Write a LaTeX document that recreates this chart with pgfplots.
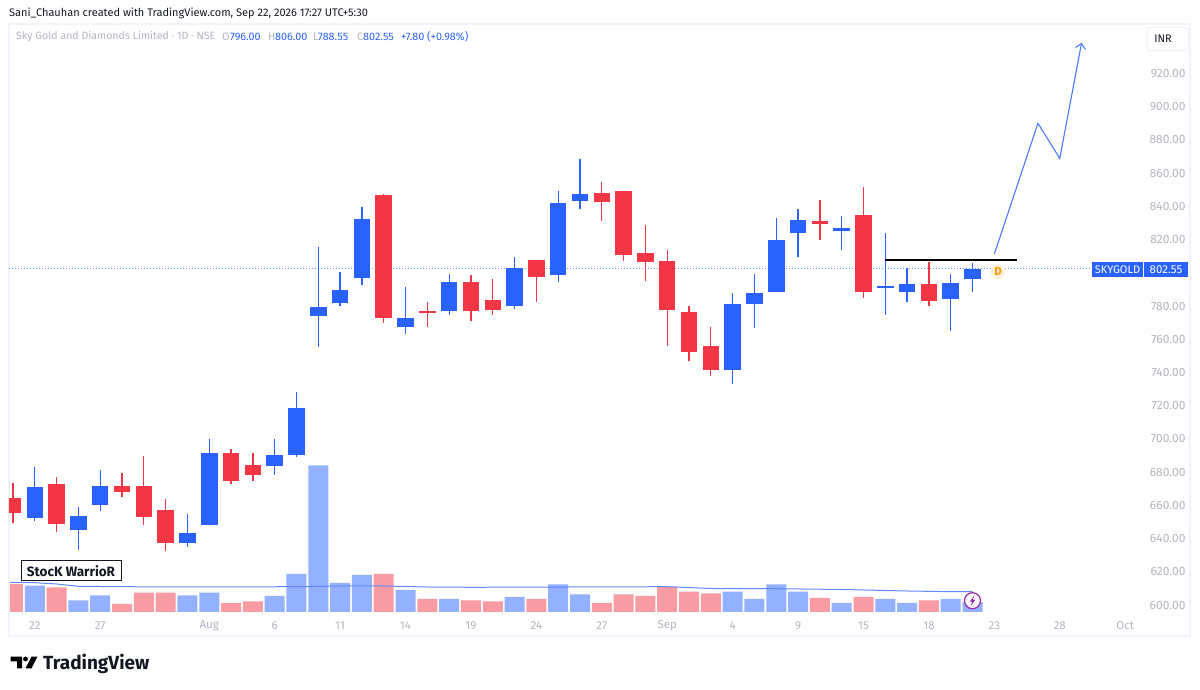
\documentclass[border=0pt]{standalone}
\usepackage{fontspec}
\setmainfont{Fira Sans}
\usepackage{pgfplots}
\usepackage{pgfplotstable}
\pgfplotsset{compat=1.18}
\usetikzlibrary{arrows.meta}
\definecolor{tvblue}{HTML}{2962FF}
\definecolor{tvred}{HTML}{F23645}
\definecolor{volblue}{HTML}{94B1FF}
\definecolor{volred}{HTML}{F89BA2}
\definecolor{tvgray}{HTML}{B2B5BE}
\definecolor{tvdark}{HTML}{131722}
\definecolor{tvframe}{HTML}{F0F3FA}
\definecolor{tvorange}{HTML}{FF9800}
\definecolor{tvpurple}{HTML}{9C27B0}

\pgfplotstableread{
x open high low close
1 652.6 683.3 650.7 670.9
3 645.0 659.2 633.1 653.4
4 660.0 681.3 656.8 671.5
8 637.5 654.6 634.7 643.2
9 648.2 699.8 648.2 691.7
12 683.5 699.8 678.4 690.5
13 690.3 728.1 689.1 718.8
14 774.2 815.5 755.5 779.2
15 782.0 800.5 780.0 789.6
16 797.0 839.4 792.7 832.4
18 767.5 791.4 763.3 772.8
20 777.2 799.3 774.6 794.5
23 780.0 809.5 778.2 803.1
25 798.7 849.4 794.6 842.0
26 843.4 868.3 838.4 847.2
33 741.5 787.7 733.0 781.2
34 781.4 799.3 766.6 787.7
35 788.4 833.0 788.4 819.7
36 824.1 838.2 809.7 831.8
38 825.3 834.2 813.9 827.0
40 790.7 824.0 774.6 791.9
41 788.4 802.7 782.6 793.1
43 784.2 799.3 765.0 794.0
44 796.0 806.0 788.55 802.55
}\bluecandles
\pgfplotstableread{
x open high low close
0 664.6 673.6 649.5 655.2
2 673.0 676.9 643.9 648.8
5 671.5 679.5 664.8 668.0
6 671.8 689.7 648.0 653.2
7 657.0 663.6 632.5 637.5
10 691.7 693.9 673.0 674.8
11 684.1 691.7 674.8 678.1
17 846.8 847.4 769.8 773.0
19 776.8 782.2 767.5 775.6
21 794.5 798.9 770.8 777.2
22 783.8 796.1 774.6 777.8
24 807.9 807.9 782.6 797.5
27 847.9 854.5 831.4 842.4
28 849.4 849.4 807.1 810.9
29 811.7 828.8 794.8 806.7
30 806.9 813.7 755.9 777.8
31 776.4 780.0 746.7 752.3
32 756.1 767.4 737.7 741.5
37 831.0 843.6 819.7 829.6
39 834.6 851.5 784.6 788.4
42 793.4 806.3 779.8 783.2
}\redcandles
\pgfplotstableread{
x vol
1 26.3
3 11.7
4 16.7
8 16.7
9 19.3
12 16
13 38
14 146.7
15 29
16 37
18 22
20 13
23 15
25 27.7
26 17.7
33 20.3
34 13
35 27.7
36 20.3
38 9
40 13
41 9
43 13
44 10
}\bluevol
\pgfplotstableread{
x vol
0 28
2 24.7
5 8
6 19.3
7 19.3
10 9
11 10.7
17 38
19 13
21 11.7
22 10.7
24 13
27 9
28 17.7
29 16
30 25.3
31 20.3
32 18.7
37 14
39 15
42 11.7
}\redvol

\begin{document}
\begin{tikzpicture}
\path[use as bounding box] (0pt,0pt) rectangle (1200pt,690pt);

% volume pane
\begin{axis}[
  at={(9pt,54pt)}, anchor=south west, scale only axis, width=1181pt, height=612pt,
  xmin=-0.183, xmax=53.97, ymin=-24, ymax=588, hide axis, clip=true]
\addplot[ybar, bar width=20pt, bar shift=0pt, fill=volblue, draw=none] table[x=x,y=vol] {\bluevol};
\addplot[ybar, bar width=20pt, bar shift=0pt, fill=volred, draw=none] table[x=x,y=vol] {\redvol};
\addplot[tvblue!75!white, line width=1pt] coordinates {
(-0.18,29.7)(1,29.3)(2,28)(3,25.7)(5,25.3)(8,25)(13,25.3)(15,26)(17,26)(19,25)(21,24.7)(30,25.3)(32,23.5)(35,23.3)(38,22.5)(41,21)(43,20.3)(44,20.3)};
\end{axis}

% price pane
\begin{axis}[
  at={(9pt,54pt)}, anchor=south west, scale only axis, width=1181pt, height=612pt,
  xmin=-0.183, xmax=53.97, ymin=581.34, ymax=949.8,
  axis line style={draw=tvframe,line width=2pt},
  major tick length=0pt,
  xtick={1,4,9,12,15,18,21,24,27,30,33,36,39,42,45,48,51},
  xticklabels={22,27,Aug,6,11,14,19,24,27,Sep,4,9,15,18,23,28,Oct},
  xticklabel style={anchor=center,yshift=10pt,font=\fontsize{11.5}{13}\selectfont,text=tvgray},
  ytick={600,620,640,660,680,700,720,740,760,780,820,840,860,880,900,920},
  ytick pos=right, yticklabel pos=right,
  yticklabel style={anchor=east,xshift=-1pt,font=\fontsize{12}{14}\selectfont,text=tvgray,
    /pgf/number format/.cd,fixed,fixed zerofill,precision=2,1000 sep={},assume math mode=true},
]
% last price line
\addplot[tvblue!70!white, line width=1pt, dash pattern=on 1pt off 2pt] coordinates {(-0.18,802.55)(49.45,802.55)};
% wicks
\addplot[draw=none,mark=none,forget plot,error bars/.cd,y dir=plus,y explicit,error mark=none,
  error bar style={draw=tvblue,line width=1.3pt}]
  table[x=x,y expr=\thisrow{low},y error plus expr=\thisrow{high}-\thisrow{low}] {\bluecandles};
\addplot[draw=none,mark=none,forget plot,error bars/.cd,y dir=plus,y explicit,error mark=none,
  error bar style={draw=tvred,line width=1.3pt}]
  table[x=x,y expr=\thisrow{low},y error plus expr=\thisrow{high}-\thisrow{low}] {\redcandles};
% bodies
\addplot[draw=none,mark=none,forget plot,error bars/.cd,y dir=plus,y explicit,error mark=none,
  error bar style={draw=tvblue,line width=16.5pt}]
  table[x=x,y expr=\thisrow{open},y error plus expr=\thisrow{close}-\thisrow{open}] {\bluecandles};
\addplot[draw=none,mark=none,forget plot,error bars/.cd,y dir=plus,y explicit,error mark=none,
  error bar style={draw=tvred,line width=16.5pt}]
  table[x=x,y expr=\thisrow{close},y error plus expr=\thisrow{open}-\thisrow{close}] {\redcandles};
% drawings
\addplot[black, line width=1.8pt] coordinates {(40,807.7)(46.02,807.7)};
\addplot[tvblue!85!white, line width=1.1pt, -{Straight Barb[length=5pt,width=10pt]}] coordinates {(45,811.3)(47,890)(48,868.9)(49,938.5)};
\end{axis}

\begin{scope}[x=1pt,y=1pt]
% header text
\node[anchor=west,inner sep=0,text=tvdark,font=\fontsize{11}{13}\selectfont] at (9,690-13) {Sani\_Chauhan created with TradingView.com, Sep 22, 2026 17:27 UTC+5:30};
\begin{scope}[every node/.style={anchor=west,inner sep=0,font=\fontsize{10.8}{12}\selectfont}]
\node[text=tvgray,font=\fontsize{10.6}{12}\selectfont] at (16,690-37) {Sky Gold and Diamonds Limited · 1D · NSE};
\node[text=tvgray] at (222,690-37) {O};
\node[text=tvblue] at (230,690-37) {796.00};
\node[text=tvgray] at (268,690-37) {H};
\node[text=tvblue] at (275,690-37) {806.00};
\node[text=tvgray] at (313,690-37) {L};
\node[text=tvblue] at (318,690-37) {788.55};
\node[text=tvgray] at (357,690-37) {C};
\node[text=tvblue] at (363,690-37) {802.55};
\node[text=tvblue] at (401,690-37) {+7.80 (+0.98\%)};
\end{scope}

% currency box
\draw[draw=tvframe!80!gray!40,fill=white,rounded corners=3pt,line width=1pt] (1147,690-27.5) rectangle (1188,690-50.5);
\node[text=tvdark,font=\fontsize{11}{13}\selectfont] at (1163,690-39) {INR};

% price label
\fill[tvblue] (1092,690-262) rectangle (1143,690-277);
\fill[tvblue] (1144,690-262) rectangle (1188,690-277);
\node[text=white,font=\fontsize{11}{13}\selectfont] at (1117.5,690-269.5) {SKYGOLD};
\node[text=white,font=\fontsize{11.5}{13}\selectfont] at (1166,690-269.5) {802.55};

% dividend marker
\fill[tvorange!14!white] (998,690-271.7) circle (7.5);
\node[text=tvorange,font=\bfseries\fontsize{11.5}{13}\selectfont] at (998,690-271.7) {D};

% watermark label
\draw[fill=white,draw=tvdark,line width=1pt] (21,690-561) rectangle (121,690-580.5);
\node[text=tvdark,font=\fontsize{13.5}{15}\selectfont\bfseries] at (71,690-571) {StocK WarrioR};

% flash icon
\draw[fill=white,draw=tvpurple,line width=1.2pt] (972.5,690-600.7) circle (8);
\fill[tvpurple] (974.5,690-595.2) -- (969.8,690-601.6) -- (972.3,690-601.6) -- (970.6,690-606.2) -- (975.4,690-599.6) -- (972.8,690-599.6) -- cycle;

% TradingView logo
\fill[black] (10.7,690-656.7) -- (22,690-656.7) -- (22,690-668.3) -- (17,690-668.3) -- (17,690-661.5) -- (10.7,690-661.5) -- cycle;
\fill[black] (25.5,690-659) circle (2.4);
\fill[black] (31.5,690-656.7) -- (37.5,690-656.7) -- (31.5,690-668.3) -- (25.5,690-668.3) -- cycle;
\node[anchor=west,inner sep=0,text=tvdark,font=\fontsize{19}{21}\selectfont\bfseries] at (43,690-664) {TradingView};
\end{scope}
\end{tikzpicture}
\end{document}
